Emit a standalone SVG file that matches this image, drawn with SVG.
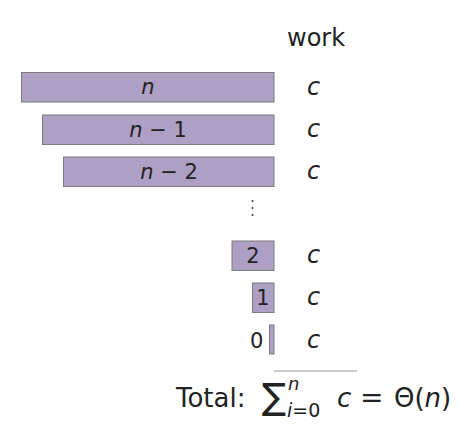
<svg xmlns="http://www.w3.org/2000/svg" width="468" height="428" viewBox="0 0 468 428">
<style>
.bar{fill:#ae9fc5;stroke:#7a7a7a;stroke-width:1}
.t{font-family:"DejaVu Sans","Liberation Sans",sans-serif;font-size:21px;fill:#222}
.i{font-style:italic}
.c{font-family:"DejaVu Sans","Liberation Sans",sans-serif;font-size:24px;font-style:italic;fill:#222}
.m{text-anchor:middle}
</style>
<rect width="468" height="428" fill="#fff"/>
<text class="t" x="287" y="46" style="font-size:24px">work</text>
<g id="n0"><rect class="bar" x="21.5" y="72.5" width="252.5" height="29.5"/><text class="t i m" x="148" y="94">n</text><text class="c" x="307" y="95">c</text></g>
<g id="n1"><rect class="bar" x="42.5" y="115" width="231.5" height="29.5"/><text class="t m" x="158" y="137"><tspan class="i">n</tspan> − 1</text><text class="c" x="307" y="137">c</text></g>
<g id="n2"><rect class="bar" x="63.5" y="157" width="210.5" height="29.5"/><text class="t m" x="169" y="179"><tspan class="i">n</tspan> − 2</text><text class="c" x="307" y="179">c</text></g>
<g id="dots" fill="#333"><circle cx="252.5" cy="201" r="1"/><circle cx="252.5" cy="208" r="1"/><circle cx="252.5" cy="215" r="1"/></g>
<g id="n3"><rect class="bar" x="232" y="241" width="42" height="29.5"/><text class="t m" x="253" y="263">2</text><text class="c" x="307" y="263">c</text></g>
<g id="n4"><rect class="bar" x="252.5" y="283" width="21.5" height="29.5"/><text class="t m" x="263" y="305">1</text><text class="c" x="307" y="305">c</text></g>
<g id="n5"><rect class="bar" x="269.5" y="325" width="4.5" height="29"/><text class="t" x="250" y="348">0</text><text class="c" x="307" y="348">c</text></g>
<g id="connectors"><line x1="274" y1="371" x2="357" y2="371" stroke="#999" stroke-width="1"/></g>
<g id="total">
<text class="t" x="176" y="407" style="font-size:26px">Total:</text>
<text class="t" x="262" y="409" style="font-size:36px">∑</text>
<text class="t i" x="288" y="390" style="font-size:18px">n</text>
<text class="t" x="287" y="417" style="font-size:19px"><tspan class="i">i</tspan>=0</text>
<text class="c" x="337" y="407" style="font-size:26px">c</text>
<text class="t" x="360" y="407" style="font-size:28px">=</text>
<text class="t" x="394" y="407" style="font-size:26px">Θ(<tspan class="i">n</tspan>)</text>
</g>
</svg>
